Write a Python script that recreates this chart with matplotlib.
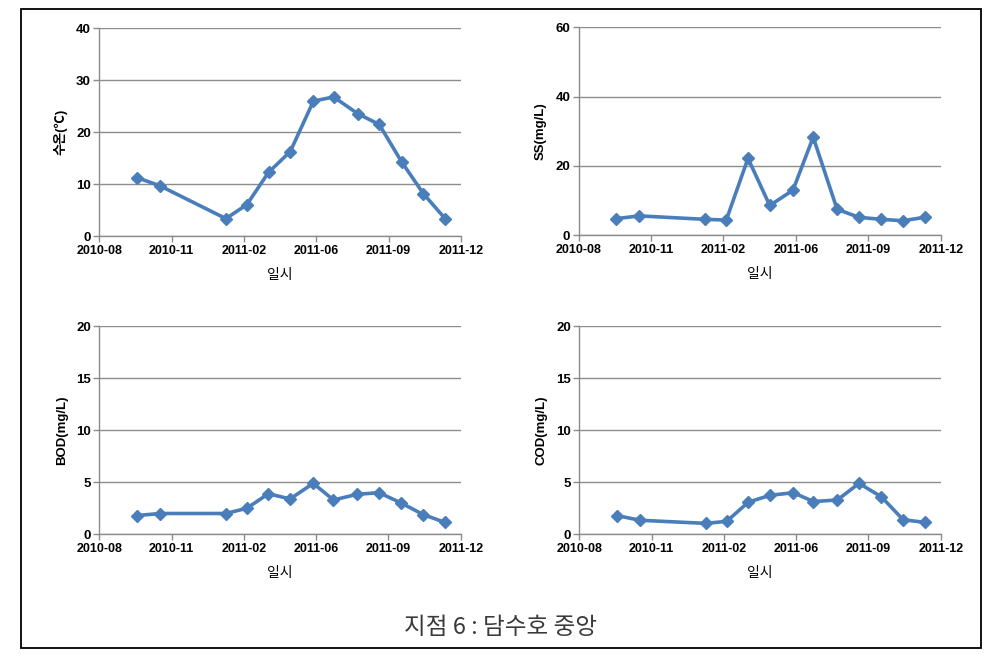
import matplotlib
matplotlib.use("Agg")
import matplotlib.pyplot as plt
import matplotlib.dates as mdates
from matplotlib.patches import Rectangle
import datetime as dt

dates = ["2010-10-01", "2010-11-02", "2011-02-01", "2011-03-02", "2011-04-01",
         "2011-05-01", "2011-06-02", "2011-06-30", "2011-08-02", "2011-09-01",
         "2011-10-02", "2011-11-01", "2011-12-01"]
temp = [11.3, 9.7, 3.4, 6.1, 12.3, 16.3, 26.0, 26.8, 23.6, 21.5, 14.3, 8.2, 3.4]
ss = [4.8, 5.6, 4.6, 4.4, 22.2, 8.6, 13.0, 28.3, 7.5, 5.2, 4.6, 4.2, 5.2]
bod = [1.8, 2.0, 2.0, 2.5, 3.9, 3.4, 4.9, 3.3, 3.85, 4.0, 3.0, 1.9, 1.15]
cod = [1.8, 1.35, 1.05, 1.25, 3.1, 3.75, 4.0, 3.15, 3.3, 4.9, 3.6, 1.4, 1.15]

ylabels = ["수온(℃)", "SS(mg/L)", "BOD(mg/L)", "COD(mg/L)"]
ylims = [(0, 40, 10), (0, 60, 20), (0, 20, 5), (0, 20, 5)]
xlabel = "일시"
caption = "지점 6 : 담수호 중앙"

# Excel date axis: serial 40400 .. 40900, step 100 days
excel_epoch = dt.datetime(1899, 12, 30)
tick_serials = [40400, 40500, 40600, 40700, 40800, 40900]
tick_dates = [excel_epoch + dt.timedelta(days=s) for s in tick_serials]
tick_labels = [d.strftime("%Y-%m") for d in tick_dates]

xdates = [dt.datetime.strptime(d, "%Y-%m-%d") for d in dates]

W, H = 991, 657
fig = plt.figure(figsize=(W / 100, H / 100), dpi=100)
fig.patch.set_facecolor("white")

# axes rects in pixels: left, top, right, bottom
rects = [(99.3, 28.3, 461, 236.3), (578.5, 27.3, 940.7, 235.3),
         (99.3, 326.3, 460.7, 534.3), (579.3, 326.3, 940.7, 534.3)]
series = [temp, ss, bod, cod]

num_font = ["Liberation Sans", "DejaVu Sans"]
kr_font = ["Noto Sans CJK KR", "DejaVu Sans"]
ylab_font = ["Liberation Sans", "Noto Sans CJK KR", "DejaVu Sans"]

line_color = "#4A7EBB"
grid_color = "#8C8C8C"

for (l, t, r, b), vals, ylab, (ymin, ymax, ystep) in zip(rects, series, ylabels, ylims):
    ax = fig.add_axes([l / W, 1 - b / H, (r - l) / W, (b - t) / H])
    ax.plot(xdates, vals, color=line_color, lw=2.6, marker="D", ms=6.5,
            mfc=line_color, mec=line_color, zorder=3)
    ax.set_xlim(tick_dates[0], tick_dates[-1])
    ax.set_ylim(ymin, ymax)
    ax.set_xticks(tick_dates)
    ax.set_xticklabels(tick_labels, fontfamily=num_font, fontweight="bold", fontsize=9)
    yt = list(range(ymin, ymax + 1, ystep))
    ax.set_yticks(yt)
    ax.set_yticklabels([str(v) for v in yt], fontfamily=num_font, fontweight="bold", fontsize=9.5)
    ax.yaxis.grid(True, color=grid_color, lw=1)
    ax.set_axisbelow(True)
    for s in ["top", "right"]:
        ax.spines[s].set_visible(False)
    for s in ["left", "bottom"]:
        ax.spines[s].set_color(grid_color)
        ax.spines[s].set_linewidth(1)
    ax.tick_params(axis="both", direction="out", length=4, color=grid_color, width=1, pad=2)
    ax.set_xlabel(xlabel, fontfamily=kr_font, fontsize=10, labelpad=8)
    ax.set_ylabel(ylab, fontfamily=ylab_font, fontweight="bold", fontsize=9.5, labelpad=6)

fig.text(500 / W, 1 - 627 / H, caption, ha="center", va="center",
         fontfamily=kr_font, fontsize=17, color="#3a3a3a", fontweight="light")

fig.patches.append(Rectangle((20.5 / W, 1 - 648.3 / H), (981.3 - 20.5) / W, (648.3 - 8.5) / H,
                             transform=fig.transFigure, fill=False, edgecolor="black", lw=1.3))

fig.savefig("out.png", dpi=100)
